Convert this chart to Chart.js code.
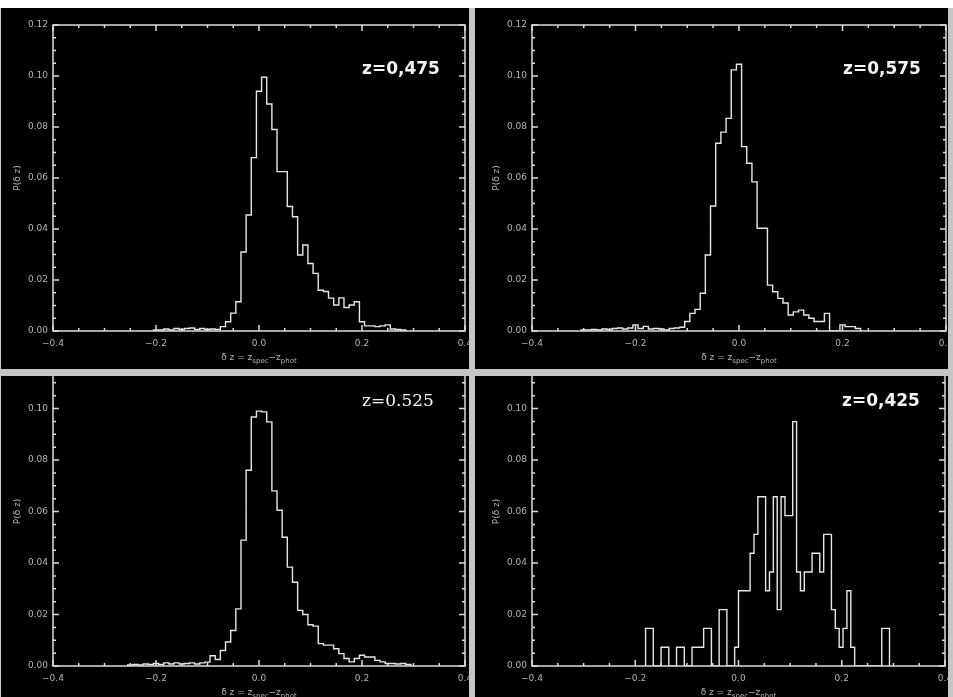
<!DOCTYPE html>
<html>
<head>
<meta charset="utf-8">
<script src="https://cdn.jsdelivr.net/npm/chart.js@4.4.1/dist/chart.umd.min.js"></script>
<style>
body { margin: 0; background: #c6c6c6; width: 953px; height: 697px; overflow: hidden; position: relative; }
#strip { position: absolute; left: 0; top: 0; width: 953px; height: 8px; background: #fff; }
.panel { position: absolute; background: #000; overflow: hidden; }
.panel canvas { position: absolute; left: 0; }
</style>
</head>
<body>
<div id="strip"></div>
<div class="panel" style="left:1px;top:8px;width:468px;height:361px"><canvas id="c475" width="468" height="361" style="top:0"></canvas></div>
<div class="panel" style="left:475px;top:8px;width:473px;height:361px"><canvas id="c575" width="473" height="361" style="top:0"></canvas></div>
<div class="panel" style="left:1px;top:376px;width:468px;height:321px"><canvas id="c525" width="468" height="364" style="top:-36px"></canvas></div>
<div class="panel" style="left:475px;top:376px;width:473px;height:321px"><canvas id="c425" width="473" height="364" style="top:-36px"></canvas></div>
<script>
// histograms of dz = z_spec - z_phot, one per redshift slice
// bins of 0.01 centred on -0.20, -0.19 ... (first edge = start)
const start475 = -0.205;
const width475 = 0.01;
const values475 = [
	0.0004, 0.0004, 0.0008, 0.0004, 0.001, 0.0006, 0.001, 0.0012, 0.0006, 0.001,
	0.0006, 0.0008, 0.0006, 0.0017, 0.0036, 0.007, 0.0115, 0.031, 0.0455, 0.068,
	0.094, 0.0995, 0.089, 0.079, 0.0625, 0.0625, 0.0488, 0.0448, 0.0298, 0.0337,
	0.0265, 0.0226, 0.016, 0.0155, 0.0129, 0.0102, 0.013, 0.0092, 0.0102, 0.0115,
	0.0036, 0.002, 0.002, 0.0017, 0.002, 0.0024, 0.0008, 0.0006, 0.0004
];

// centred on -0.30 ... 0.23
const start575 = -0.305;
const width575 = 0.01;
const values575 = [
	0.0004, 0.0004, 0.0006, 0.0004, 0.0008, 0.0006, 0.001, 0.0012, 0.0008, 0.0012,
	0.0024, 0.001, 0.0018, 0.0008, 0.001, 0.0008, 0.0004, 0.001, 0.0012, 0.0015,
	0.0037, 0.0069, 0.0085, 0.0148, 0.0298, 0.049, 0.0736, 0.078, 0.0834, 0.1024,
	0.1046, 0.0723, 0.0658, 0.0585, 0.0403, 0.0403, 0.018, 0.0154, 0.0128, 0.011,
	0.0063, 0.0075, 0.0082, 0.0063, 0.005, 0.0037, 0.0037, 0.0069, 0, 0,
	0.0024, 0.0017, 0.0017, 0.001
];

// centred on -0.25 ... 0.29
const start525 = -0.255;
const width525 = 0.01;
const values525 = [
	0.0004, 0.0006, 0.0004, 0.0008, 0.0006, 0.001, 0.0006, 0.0012, 0.0008, 0.0012,
	0.0008, 0.001, 0.0012, 0.0008, 0.0012, 0.0015, 0.004, 0.0025, 0.006, 0.0093,
	0.0138, 0.0222, 0.0489, 0.076, 0.0967, 0.099, 0.0987, 0.0948, 0.068, 0.0605,
	0.05, 0.0384, 0.0325, 0.0216, 0.02, 0.016, 0.0155, 0.0087, 0.0081, 0.0081,
	0.0067, 0.0048, 0.0029, 0.0016, 0.0029, 0.0042, 0.0035, 0.0035, 0.0022, 0.0016,
	0.001, 0.001, 0.0008, 0.001, 0.0006
];

// few objects here: narrower bins of 0.0075 from -0.18
const start425 = -0.18;
const width425 = 0.0075;
const values425 = [
	0.0146, 0.0146, 0, 0, 0.0073, 0.0073, 0, 0, 0.0073, 0.0073,
	0, 0, 0.0073, 0.0073, 0.0073, 0.0146, 0.0146, 0, 0, 0.0219,
	0.0219, 0, 0, 0.0073, 0.0292, 0.0292, 0.0292, 0.0438, 0.0511, 0.0657,
	0.0657, 0.0292, 0.0365, 0.0657, 0.0219, 0.0657, 0.0584, 0.0584, 0.0949, 0.0365,
	0.0292, 0.0365, 0.0365, 0.0438, 0.0438, 0.0365, 0.0511, 0.0511, 0.0219, 0.0146,
	0.0073, 0.0146, 0.0292, 0.0073, 0, 0, 0, 0, 0, 0,
	0, 0.0146, 0.0146
];

const xTicks = [-0.4, -0.2, 0.0, 0.2, 0.4];
const yTicks = [0, 0.02, 0.04, 0.06, 0.08, 0.10, 0.12];

function histPoints(start, width, values) {
	const pts = [{x: start, y: 0}];
	values.forEach((v, i) => {
		pts.push({x: +(start + i * width).toFixed(5), y: v});
	});
	pts.push({x: +(start + values.length * width).toFixed(5), y: 0});
	return pts;
}

// box with inward ticks on all four sides, titles and the z label
const idlFrame = {
	id: 'idlFrame',
	afterDatasetsDraw(chart, args, opts) {
		const ctx = chart.ctx;
		const a = chart.chartArea;
		const x = chart.scales.x;
		const y = chart.scales.y;
		ctx.save();
		ctx.strokeStyle = '#dcdcdc';
		ctx.lineWidth = 1.5;
		ctx.strokeRect(a.left, a.top, a.right - a.left, a.bottom - a.top);
		ctx.beginPath();
		for (let i = 0; i <= 16; i++) {
			const px = x.getPixelForValue(xTicks[0] + i * 0.05);
			const len = i % 4 === 0 ? 6 : 3;
			ctx.moveTo(px, a.bottom); ctx.lineTo(px, a.bottom - len);
			ctx.moveTo(px, a.top); ctx.lineTo(px, a.top + len);
		}
		for (let i = 0; i <= 24; i++) {
			const py = y.getPixelForValue(i * 0.005);
			const len = i % 4 === 0 ? 6 : 3;
			ctx.moveTo(a.left, py); ctx.lineTo(a.left + len, py);
			ctx.moveTo(a.right, py); ctx.lineTo(a.right - len, py);
		}
		ctx.stroke();

		// y title
		ctx.fillStyle = '#b4b4b4';
		ctx.font = '9px "DejaVu Sans"';
		ctx.textAlign = 'center';
		ctx.textBaseline = 'middle';
		ctx.save();
		ctx.translate(a.left - 35, (a.top + a.bottom) / 2);
		ctx.rotate(-Math.PI / 2);
		ctx.fillText('P(\u03b4 z)', 0, 0);
		ctx.restore();

		// x title with subscripts
		const parts = [['\u03b4 z = z', 0], ['spec', 1], ['\u2212z', 0], ['phot', 1]];
		let total = 0;
		parts.forEach(p => {
			ctx.font = p[1] ? '7px "DejaVu Sans"' : '9px "DejaVu Sans"';
			total += ctx.measureText(p[0]).width;
		});
		let tx = (a.left + a.right) / 2 - total / 2;
		const ty = a.bottom + 27;
		ctx.textAlign = 'left';
		parts.forEach(p => {
			ctx.font = p[1] ? '7px "DejaVu Sans"' : '9px "DejaVu Sans"';
			ctx.fillText(p[0], tx, ty + (p[1] ? 3 : 0));
			tx += ctx.measureText(p[0]).width;
		});

		// z label
		ctx.fillStyle = '#f4f4f4';
		ctx.font = opts.font;
		ctx.fillText(opts.label, a.right - 103, a.top + 45);
		ctx.restore();
	}
};

function makeConfig(start, width, values, label, font, yWidth, padRight) {
	return {
		type: 'line',
		data: {
			datasets: [{
				data: histPoints(start, width, values),
				borderColor: '#e6e6e6',
				borderWidth: 1.4,
				pointRadius: 0,
				tension: 0,
				stepped: true,
				fill: false
			}]
		},
		options: {
			responsive: false,
			animation: false,
			devicePixelRatio: 1,
			layout: {padding: {left: 0, right: padRight, top: 17, bottom: 0}},
			plugins: {
				legend: {display: false},
				tooltip: {enabled: false},
				idlFrame: {label: label, font: font}
			},
			scales: {
				x: {
					type: 'linear',
					min: xTicks[0],
					max: xTicks[xTicks.length - 1],
					grid: {display: false, drawTicks: false},
					border: {display: false},
					afterBuildTicks: s => { s.ticks = xTicks.map(v => ({value: v})); },
					ticks: {
						padding: 7,
						maxRotation: 0,
						autoSkip: false,
						color: '#b4b4b4',
						font: {family: 'DejaVu Sans', size: 9},
						callback: v => (v < -1e-9 ? '\u2212' : '') + Math.abs(v).toFixed(1)
					},
					afterFit: s => { s.height = 38; s.paddingLeft = 0; s.paddingRight = 0; }
				},
				y: {
					min: yTicks[0],
					max: yTicks[yTicks.length - 1],
					grid: {display: false, drawTicks: false},
					border: {display: false},
					afterBuildTicks: s => { s.ticks = yTicks.map(v => ({value: v})); },
					ticks: {
						padding: 5,
						autoSkip: false,
						color: '#b4b4b4',
						font: {family: 'DejaVu Sans', size: 9},
						callback: v => v.toFixed(2)
					},
					afterFit: s => { s.width = yWidth; s.paddingTop = 0; s.paddingBottom = 0; }
				}
			}
		},
		plugins: [idlFrame]
	};
}

const chart475 = new Chart(
	document.getElementById('c475'),
	makeConfig(start475, width475, values475, 'z=0,475', 'bold 17px "DejaVu Sans"', 52, 4)
);

const chart575 = new Chart(
	document.getElementById('c575'),
	makeConfig(start575, width575, values575, 'z=0,575', 'bold 17px "DejaVu Sans"', 57, 2)
);

const chart525 = new Chart(
	document.getElementById('c525'),
	makeConfig(start525, width525, values525, 'z=0.525', '17px "DejaVu Serif"', 52, 4)
);

const chart425 = new Chart(
	document.getElementById('c425'),
	makeConfig(start425, width425, values425, 'z=0,425', 'bold 17px "DejaVu Sans"', 57, 3)
);
</script>
</body>
</html>
